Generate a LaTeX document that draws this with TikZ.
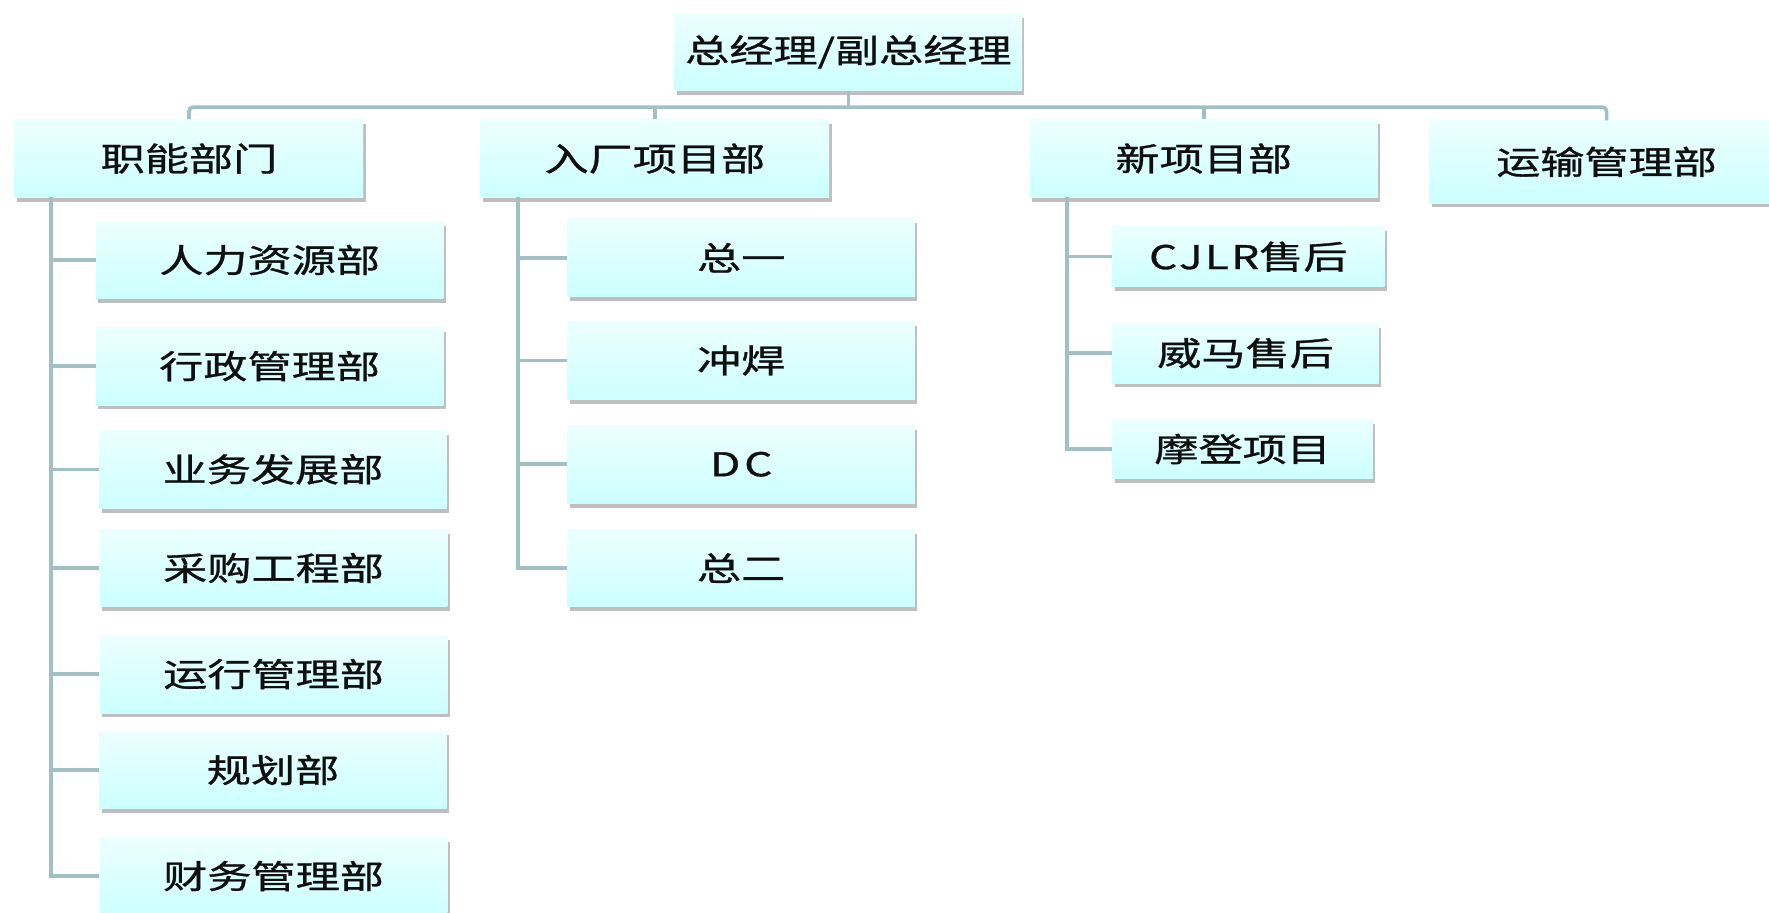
\documentclass[tikz,border=0pt]{standalone}
\usepackage{fontspec}
\newfontfamily\cjk[FakeStretch=1.35,FakeBold=0.9]{Noto Sans CJK SC}
\usetikzlibrary{shadows}
\definecolor{conncol}{RGB}{160,192,196}
\definecolor{boxtop}{RGB}{236,255,255}
\definecolor{boxbot}{RGB}{204,255,255}
\definecolor{txt}{RGB}{15,15,15}
\tikzset{
  orgbox/.style={rectangle, inner sep=0pt, top color=boxtop, bottom color=boxbot,
    draw=none, text=txt, font=\cjk\fontsize{16.5pt}{18pt}\selectfont,
    drop shadow={shadow xshift=1.2pt, shadow yshift=-2.2pt, opacity=0.25, fill=black},
    minimum width=6.16cm, minimum height=1.38cm},
  conn/.style={draw=conncol, line width=1.8pt},
  latin/.style={font=\cjk\fontsize{16.5pt}{18pt}\selectfont\addfontfeature{LetterSpace=12}},
}
\begin{document}
\begin{tikzpicture}[x=0.02cm, y=-0.02cm]
\useasboundingbox (0,0) rectangle (1568,809);
% top
\node[orgbox, minimum height=1.36cm] (top) at (752,46) {总经理/副总经理};
% level 1
\node[orgbox, minimum width=6.18cm] (zn) at (167.5,140.5) {职能部门};
\node[orgbox, minimum width=6.18cm] (rc) at (580.5,140.5) {入厂项目部};
\node[orgbox] (xm) at (1067,140.5) {新项目部};
\node[orgbox, minimum width=6.28cm, minimum height=1.46cm] (ys) at (1424,143.5) {运输管理部};
% zn children
\node[orgbox] (zn1) at (239,230.5) {人力资源部};
\node[orgbox] (zn2) at (239,324.5) {行政管理部};
\node[orgbox] (zn3) at (242,416) {业务发展部};
\node[orgbox] (zn4) at (242.5,503.5) {采购工程部};
\node[orgbox] (zn5) at (242.5,597.5) {运行管理部};
\node[orgbox] (zn6) at (242,682.5) {规划部};
\node[orgbox] (zn7) at (242.5,776.5) {财务管理部};
% rc children
\node[orgbox] (rc1) at (657,228.5) {总一};
\node[orgbox] (rc2) at (657,319.5) {冲焊};
\node[orgbox, latin] (rc3) at (657,411.5) {DC};
\node[orgbox] (rc4) at (657,503.5) {总二};
% xm children
\node[orgbox, minimum width=4.82cm, minimum height=1.06cm] (xm1) at (1106.5,227.5) {{\addfontfeature{LetterSpace=7}CJLR}售后};
\node[orgbox, minimum width=4.72cm, minimum height=1.06cm] (xm2) at (1104,313) {威马售后};
\node[orgbox, minimum width=4.62cm, minimum height=1.06cm] (xm3) at (1101.5,398) {摩登项目};
% bus
\coordinate (bus) at (752,95);
\draw[conn, rounded corners=2pt] (zn.north) |- (bus) -| (ys.north);
\draw[conn] (top.south) -- (top.south |- bus);
\draw[conn] (rc.north) -- (rc.north |- bus);
\draw[conn] (xm.north) -- (xm.north |- bus);
% zn branch
\coordinate (znv) at (45,175);
\draw[conn] (znv) -- (znv |- zn7.west) -- (zn7.west);
\foreach \c in {zn1,zn2,zn3,zn4,zn5,zn6}{\draw[conn] (znv |- \c.west) -- (\c.west);}
% rc branch
\coordinate (rcv) at (459,175);
\draw[conn] (rcv) -- (rcv |- rc4.west) -- (rc4.west);
\foreach \c in {rc1,rc2,rc3}{\draw[conn] (rcv |- \c.west) -- (\c.west);}
% xm branch
\coordinate (xmv) at (946,175);
\draw[conn] (xmv) -- (xmv |- xm3.west) -- (xm3.west);
\foreach \c in {xm1,xm2}{\draw[conn] (xmv |- \c.west) -- (\c.west);}
\end{tikzpicture}
\end{document}
